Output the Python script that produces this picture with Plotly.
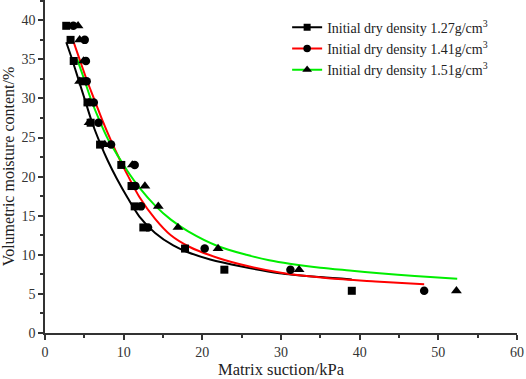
import plotly.graph_objects as go

# Measured moisture levels (%), shared by all three samples
moisture = [39.3, 37.5, 34.8, 32.2, 29.5, 26.9, 24.1, 21.5, 18.8, 16.2, 13.5, 10.8, 8.1, 5.4]
suction_127 = [2.7, 3.25, 3.65, 4.8, 5.4, 5.8, 7.0, 9.7, 11.0, 11.4, 12.5, 17.8, 22.8, 39.0]
suction_141 = [3.6, 5.05, 5.2, 5.3, 6.2, 6.8, 8.4, 11.4, 11.5, 12.2, 13.1, 20.3, 31.2, 48.2]
suction_151 = [4.2, 4.4, 4.9, 4.4, 5.6, 5.6, 7.6, 11.1, 12.7, 14.4, 16.9, 22.0, 32.3, 52.3]

# Fitted curves
fit127_x = [2.7, 3.35, 4.2, 5.05, 6.0, 7.0, 8.0, 9.1, 10.5, 12.0, 14.0, 16.3, 18.0, 21.0, 25.0, 29.8, 35.0, 39.0]
fit127_y = [37.2, 35.3, 32.6, 29.9, 26.9, 24.3, 22.0, 19.8, 17.3, 14.9, 12.8, 11.2, 10.4, 9.4, 8.5, 7.65, 7.15, 6.85]
fit141_x = [3.65, 4.4, 5.3, 6.3, 7.3, 8.35, 9.5, 10.5, 12.0, 14.0, 16.0, 18.4, 22.0, 26.0, 30.0, 36.0, 42.0, 48.2]
fit141_y = [37.2, 35.0, 32.4, 29.8, 27.2, 24.7, 22.2, 20.2, 17.4, 14.6, 12.5, 11.0, 9.6, 8.5, 7.7, 7.0, 6.6, 6.25]
fit151_x = [4.1, 5.0, 5.8, 7.0, 8.0, 9.3, 10.5, 12.0, 14.0, 16.0, 18.2, 22.0, 25.6, 28.5, 31.1, 35.0, 38.7, 42.5, 47.0, 52.4]
fit151_y = [35.0, 32.4, 30.0, 27.0, 24.8, 22.6, 20.7, 18.6, 16.3, 14.5, 13.0, 11.1, 10.0, 9.3, 8.85, 8.35, 8.0, 7.65, 7.3, 6.95]

names = ["Initial dry density 1.27g/cm<sup>3</sup>",
         "Initial dry density 1.41g/cm<sup>3</sup>",
         "Initial dry density 1.51g/cm<sup>3</sup>"]
colors = ["#000000", "#ff0000", "#00ee00"]
symbols = ["square", "circle", "triangle-up"]
msizes = [8, 8.5, 9.5]

FONT = "Liberation Serif, Times New Roman, serif"

fig = go.Figure()
series = [(suction_127, fit127_x, fit127_y), (suction_141, fit141_x, fit141_y), (suction_151, fit151_x, fit151_y)]
for i, (sx, fx, fy) in enumerate(series):
    fig.add_trace(go.Scatter(x=fx, y=fy, mode="lines", line=dict(color=colors[i], width=2, shape="spline", smoothing=0.8),
                             showlegend=False, hoverinfo="skip"))
for i, (sx, fx, fy) in enumerate(series):
    fig.add_trace(go.Scatter(x=sx, y=moisture, mode="markers",
                             marker=dict(symbol=symbols[i], color="black", size=msizes[i]),
                             showlegend=False))
for i in range(3):
    fig.add_trace(go.Scatter(x=[None], y=[None], mode="lines+markers", name=names[i],
                             line=dict(color=colors[i], width=2),
                             marker=dict(symbol=symbols[i], color="black", size=msizes[i] - 1)))

fig.update_layout(
    width=526, height=379,
    margin=dict(l=45, r=9, t=0, b=46),
    paper_bgcolor="white", plot_bgcolor="white",
    font=dict(family=FONT, size=14, color="#222"),
    legend=dict(x=0.513, y=0.965, xanchor="left", yanchor="top", bgcolor="rgba(0,0,0,0)",
                font=dict(family=FONT, size=14, color="#222"), tracegroupgap=0),
)
axis_common = dict(showline=True, linecolor="#333", linewidth=1.5, ticks="outside", ticklen=5,
                   tickwidth=1.5, tickcolor="#333", showgrid=False, zeroline=False, automargin=False,
                   tickfont=dict(family=FONT, size=14, color="#333"))
fig.update_xaxes(range=[0, 60], dtick=10, title=dict(text="Matrix suction/kPa", font=dict(family=FONT, size=16.5, color="#222")),
                 minor=dict(dtick=5, ticks="outside", ticklen=3, tickcolor="#333", tickwidth=1.5), **axis_common)
fig.update_yaxes(range=[0, 42.6], dtick=5, title=dict(text="Volumetric moisture content/%", font=dict(family=FONT, size=16, color="#222")),
                 minor=dict(dtick=2.5, ticks="outside", ticklen=3, tickcolor="#333", tickwidth=1.5), **axis_common)

fig.write_html("out.html", config={"displayModeBar": False},
               post_script="document.body.style.margin='0px';document.body.style.overflow='hidden';")
